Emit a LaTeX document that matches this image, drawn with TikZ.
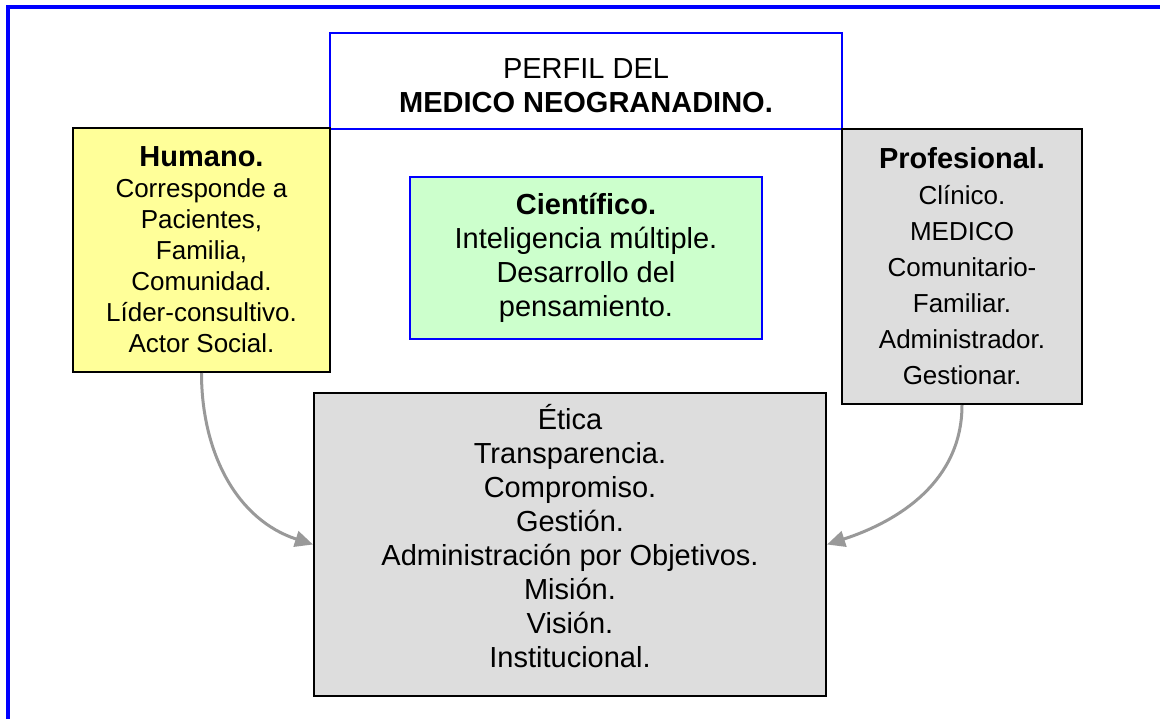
\documentclass[tikz,border=0pt]{standalone}
\usepackage{fontspec}
\setmainfont{Liberation Sans}
\usetikzlibrary{arrows.meta}
\definecolor{frameblue}{HTML}{0000FF}
\definecolor{boxyellow}{HTML}{FFFF99}
\definecolor{boxgray}{HTML}{DDDDDD}
\definecolor{boxgreen}{HTML}{CCFFCC}
\definecolor{arrowgray}{HTML}{999999}
\tikzset{
  box/.style={draw=black, line width=2pt, rectangle, inner sep=0pt, align=center},
  bigtext/.style={font=\fontsize{29}{34}\selectfont},
  link/.style={draw=arrowgray, line width=3pt, -{Triangle[length=18pt,width=16pt]}}
}
\begin{document}
\begin{tikzpicture}[x=1pt,y=-1pt]
\useasboundingbox (0,0) rectangle (1160,718);
\fill[white] (0,0) rectangle (1160,718);
% outer frame (only left and top visible)
\draw[frameblue, line width=4pt] (8,720) -- (8,7) -- (1162,7);
% title
\node[box, draw=frameblue, line width=1.5pt, fill=white, bigtext,
      minimum width=512pt, minimum height=96pt] (title) at (586,81)
  {\rule{0pt}{29pt}PERFIL DEL\\ \textbf{MEDICO NEOGRANADINO.}};
% Humano
\node[box, fill=boxyellow, font=\fontsize{26}{31}\selectfont,
      minimum width=257pt, minimum height=244pt] (hum) at (201.5,250)
  {{\fontsize{29}{31}\selectfont\bfseries Humano.}\\
   Corresponde a\\ Pacientes,\\ Familia,\\ Comunidad.\\ Líder-consultivo.\\ Actor Social.};
% Profesional
\node[box, fill=boxgray, font=\fontsize{26}{36}\selectfont,
      minimum width=240pt, minimum height=275pt] (prof) at (962,266.5)
  {{\fontsize{29}{36}\selectfont\bfseries Profesional.}\\
   Clínico.\\ MEDICO\\ Comunitario-\\ Familiar.\\ Administrador.\\ Gestionar.};
% Cientifico
\node[box, draw=frameblue, fill=boxgreen, line width=2pt, font=\fontsize{29}{34}\selectfont,
      minimum width=352pt, minimum height=162pt] (cien) at (586,258)
  {\textbf{Científico.}\\ Inteligencia múltiple.\\ Desarrollo del\\ pensamiento.};
% Etica
\node[box, fill=boxgray, bigtext, text depth=18pt,
      minimum width=512pt, minimum height=303pt] (eti) at (570,544.5)
  {Ética\\ Transparencia.\\ Compromiso.\\ Gestión.\\ Administración por Objetivos.\\ Misión.\\ Visión.\\ Institucional.};
% connectors
\draw[link] (hum.south) to[out=-90, in=162] (eti.west);
\draw[link] (prof.south) to[out=-90, in=18] (eti.east);
\end{tikzpicture}
\end{document}
